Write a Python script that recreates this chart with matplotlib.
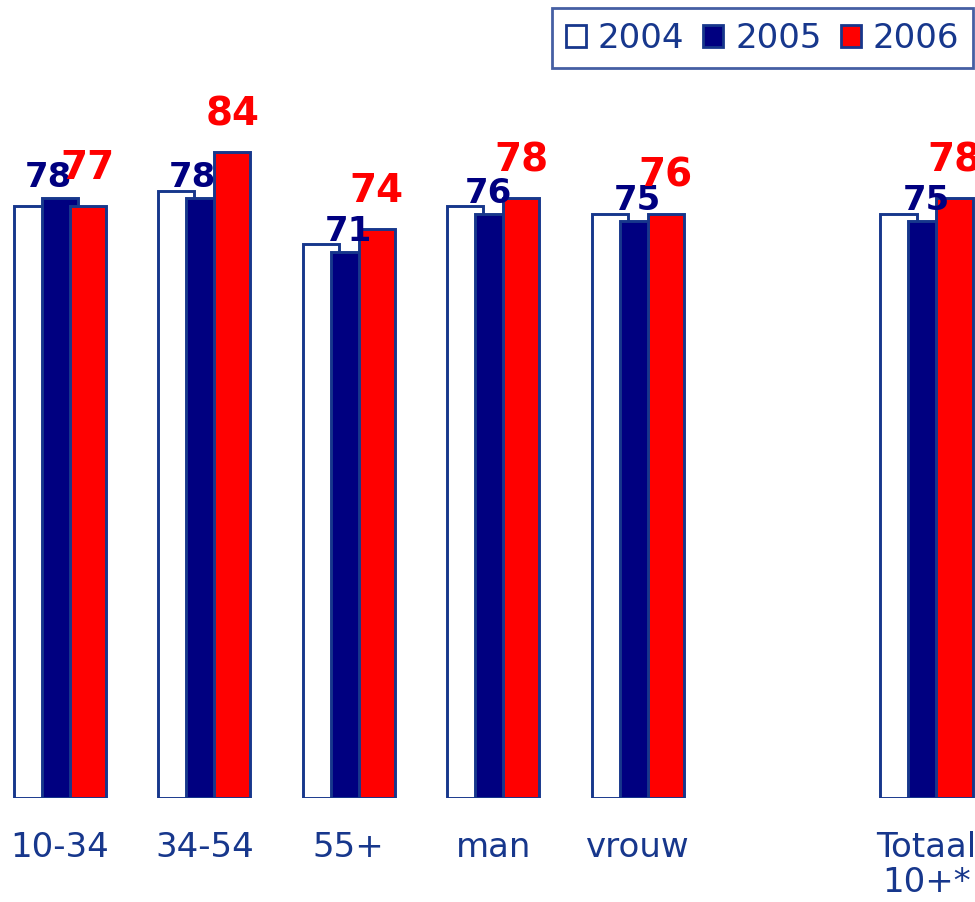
import matplotlib
matplotlib.use("Agg")

import matplotlib.pyplot as plt
from matplotlib.patches import Patch
import numpy as np

# ── data ──────────────────────────────────────────────────────────────
categories = ["10-34", "34-54", "55+", "man", "vrouw", "Totaal\n10+*"]
positions  = [0, 1, 2, 3, 4, 6]          # lege plek tussen vrouw en totaal
years      = ["2004", "2005", "2006"]
vals_2004  = [77, 79, 72, 77, 76, 76]    # niet gelabeld, geschat
vals_2005  = [78, 78, 71, 76, 75, 75]
vals_2006  = [77, 84, 74, 78, 76, 78]

NAVY  = "#000080"
RED   = "#FF0000"
EDGE  = "#17378C"
TEXT  = "#17378C"

plt.rcParams["font.family"] = ["DejaVu Sans"]

fig = plt.figure(figsize=(9.75, 9.02), dpi=100)
ax = fig.add_axes([0, 0.1153, 1, 0.8847])

x = np.array(positions, dtype=float)
width = 0.25
step = 0.194

ax.bar(x - step, vals_2004, width, color="white", edgecolor=EDGE, linewidth=2.1, zorder=2)
ax.bar(x, vals_2005, width, color=NAVY, edgecolor=EDGE, linewidth=2.1, zorder=3)
ax.bar(x + step, vals_2006, width, color=RED, edgecolor=EDGE, linewidth=2.1, zorder=4)

# eerste twee navy labels staan iets naar links in het origineel
nudge = [-0.08, -0.08, 0.0, -0.03, 0.0, 0.0]
for xi, v, dx in zip(x, vals_2005, nudge):
    ax.text(xi + dx, v + 1.45, str(v), ha="center", va="baseline",
            color=NAVY, fontsize=24.5, fontweight="bold", zorder=5)
for xi, v in zip(x, vals_2006):
    ax.text(xi + step, v + 3.5, str(v), ha="center", va="baseline",
            color=RED, fontsize=28, fontweight="bold", zorder=6)

ax.set_xlim(-0.415, 6.336)
ax.set_ylim(0, 103.8)
ax.set_xticks(x)
ax.set_xticklabels(categories, fontsize=24.5, color=TEXT, linespacing=1.05)
ax.tick_params(axis="x", length=0, pad=24)
ax.set_yticks([])
for s in ax.spines.values():
    s.set_visible(False)

handles = [
    Patch(facecolor="white", edgecolor=EDGE, linewidth=2),
    Patch(facecolor=NAVY, edgecolor=EDGE, linewidth=2),
    Patch(facecolor=RED, edgecolor=EDGE, linewidth=2),
]
leg = fig.legend(handles, years, loc="upper right", bbox_to_anchor=(0.998, 0.991),
                 ncol=3, fontsize=24.5, frameon=True, fancybox=False,
                 handlelength=0.6, handleheight=0.6, handletextpad=0.35,
                 columnspacing=0.55, borderpad=0.4, borderaxespad=0)
leg.get_frame().set_edgecolor(EDGE)
leg.get_frame().set_linewidth(2)
for t in leg.get_texts():
    t.set_color(TEXT)

plt.savefig("out.png", dpi=100)
plt.close()
